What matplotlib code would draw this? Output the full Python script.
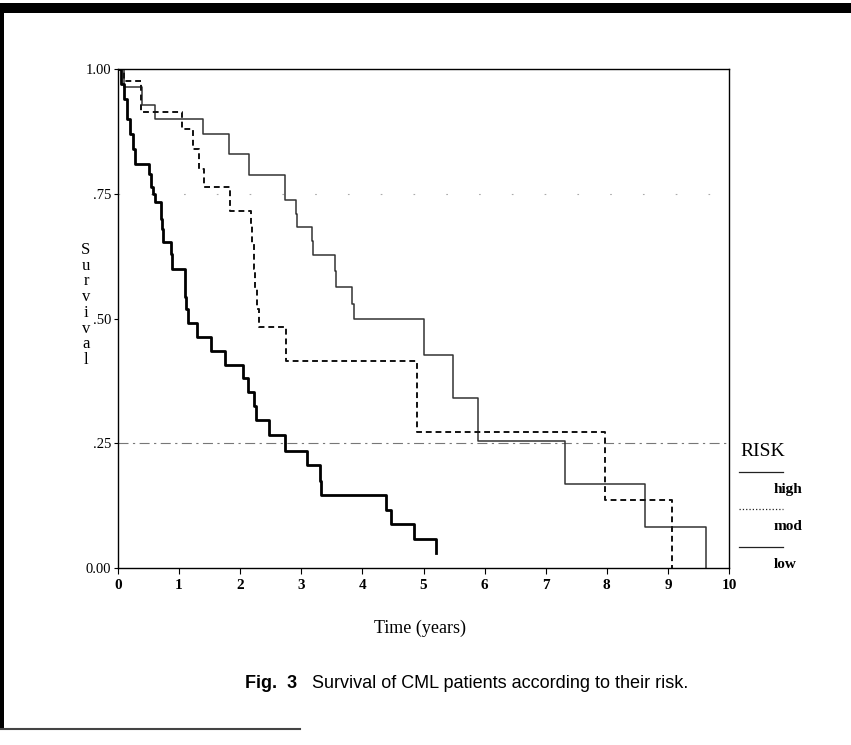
import matplotlib
matplotlib.use("Agg")
import matplotlib.pyplot as plt
from matplotlib.lines import Line2D
from matplotlib.patches import Rectangle

# Kaplan-Meier steps (time in years, survival)
high_t = [0, 0.05, 0.10, 0.15, 0.20, 0.25, 0.28, 0.51, 0.54, 0.58, 0.61,
          0.71, 0.72, 0.73, 0.87, 0.88, 1.09, 1.12, 1.14, 1.30, 1.52, 1.75,
          2.05, 2.12, 2.23, 2.26, 2.47, 2.73, 3.10, 3.30, 3.33, 4.39, 4.46,
          4.85, 5.21]
high_s = [1.0, 0.97, 0.94, 0.90, 0.87, 0.84, 0.81, 0.79, 0.764, 0.75, 0.733,
          0.70, 0.68, 0.653, 0.63, 0.60, 0.543, 0.52, 0.49, 0.463, 0.435, 0.407,
          0.38, 0.353, 0.325, 0.297, 0.267, 0.234, 0.206, 0.175, 0.146, 0.117, 0.088,
          0.058, 0.03]

mod_t = [0, 0.10, 0.38, 1.05, 1.22, 1.32, 1.40, 1.84, 2.18, 2.20, 2.22,
         2.25, 2.27, 2.30, 2.75, 4.89, 7.97, 9.06]
mod_s = [1.0, 0.975, 0.914, 0.88, 0.84, 0.80, 0.764, 0.716, 0.69, 0.65, 0.60,
         0.56, 0.52, 0.483, 0.415, 0.273, 0.136, 0.0]

low_t = [0, 0.10, 0.40, 0.60, 1.39, 1.81, 2.14, 2.74, 2.91, 2.93, 3.18,
         3.19, 3.55, 3.57, 3.83, 3.86, 5.01, 5.49, 5.89, 7.32, 8.62, 9.63]
low_s = [1.0, 0.964, 0.928, 0.90, 0.87, 0.83, 0.787, 0.737, 0.71, 0.683, 0.655,
         0.627, 0.595, 0.563, 0.53, 0.50, 0.427, 0.34, 0.254, 0.168, 0.082, 0.0]

xticks = list(range(11))
yticks = [0.0, 0.25, 0.5, 0.75, 1.0]
ylabels = ['0.00', '.25', '.50', '.75', '1.00']

W, H = 851, 745
serif = 'Liberation Serif'
sans = 'Liberation Sans'

fig = plt.figure(figsize=(W / 100, H / 100), dpi=100)
ax = fig.add_axes([118 / W, 1 - 568 / H, (729 - 118) / W, (568 - 69) / H])

# reference lines
ax.axhline(0.25, color='#777777', lw=0.8, dashes=(9, 4, 2, 4))
ax.axhline(0.75, color='#aaaaaa', lw=0.8, dashes=(1.5, 28))

ax.step(low_t, low_s, where='post', color='#333333', lw=1.1)
ax.step(mod_t, mod_s, where='post', color='#111111', lw=1.4, dashes=(3, 2))
ax.step(high_t, high_s, where='post', color='#000000', lw=2.0)

ax.set_xlim(0, 10)
ax.set_ylim(0, 1)
ax.set_xticks(xticks)
ax.set_xticklabels([str(v) for v in xticks], fontfamily=serif, fontsize=11,
                   fontweight='bold')
ax.set_yticks(yticks)
ax.set_yticklabels(ylabels, fontfamily=serif, fontsize=10.5)
ax.tick_params(axis='x', length=4, width=0.8, pad=4)
ax.tick_params(axis='y', length=3, width=0.8, pad=2)
for sp in ax.spines.values():
    sp.set_linewidth(1.0)

# stacked y label
fig.text(86 / W, 1 - 305 / H, '\n'.join('Survival'), ha='center', va='center',
         fontfamily=serif, fontsize=12, linespacing=0.98)
fig.text(420 / W, 1 - 628 / H, 'Time (years)', ha='center', va='center',
         fontfamily=serif, fontsize=13)

# legend drawn by hand
fig.text(740 / W, 1 - 452 / H, 'RISK', ha='left', va='center',
         fontfamily=serif, fontsize=14)
leg = [('high', '-', 472, 490), ('mod', ':', 509, 527), ('low', '-', 547, 564)]
for name, ls, ly, ty in leg:
    fig.add_artist(Line2D([739 / W, 783 / W], [1 - ly / H, 1 - ly / H],
                          transform=fig.transFigure, color='#222222', lw=0.9, ls=ls))
    fig.text(774 / W, 1 - ty / H, name, ha='left', va='center',
             fontfamily=serif, fontsize=11, fontweight='bold')

# caption
fig.text(245 / W, 1 - 683 / H, 'Fig.  3', ha='left', va='center',
         fontfamily=sans, fontsize=13, fontweight='bold')
fig.text(312 / W, 1 - 683 / H, 'Survival of CML patients according to their risk.',
         ha='left', va='center', fontfamily=sans, fontsize=13)

# page border from the scan
fig.add_artist(Rectangle((0, 1 - 13 / H), 1, 10 / H, transform=fig.transFigure,
                         color='black', lw=0))
fig.add_artist(Rectangle((0, 1 - 729 / H), 4 / W, 726 / H, transform=fig.transFigure,
                         color='black', lw=0))
fig.add_artist(Line2D([0, 300 / W], [1 - 729 / H, 1 - 729 / H],
                      transform=fig.transFigure, color='#444444', lw=1.5))

fig.savefig('out.png', dpi=100)
